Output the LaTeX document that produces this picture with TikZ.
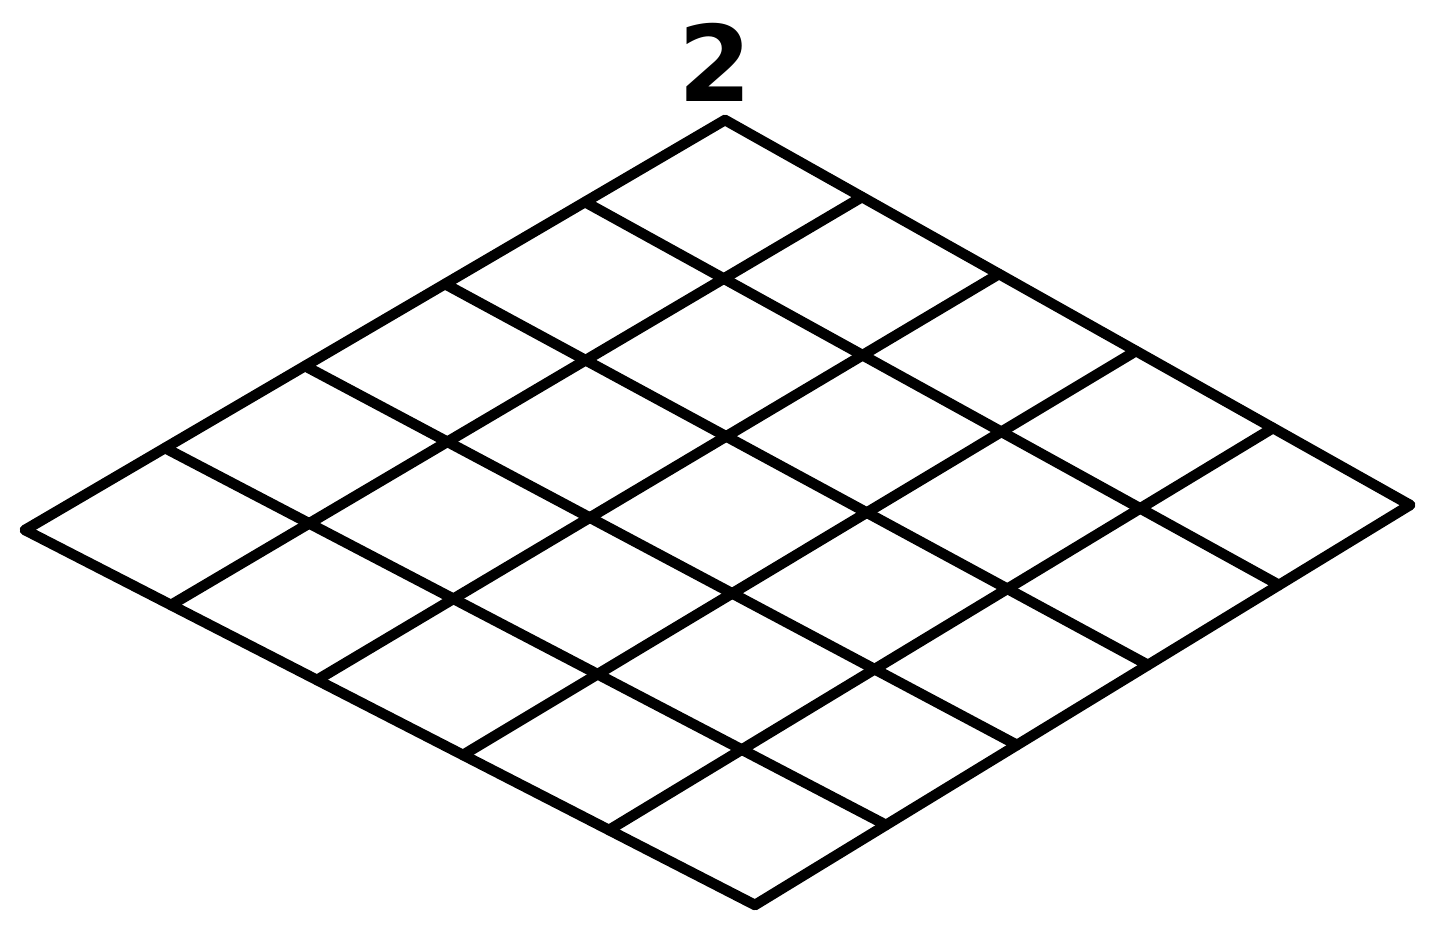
\documentclass[tikz,border=0pt]{standalone}
\usepackage{fontspec}
\setsansfont{DejaVu Sans}
\usetikzlibrary{calc}
\tikzset{
  gridline/.style={line width=3pt, draw=black, line join=round, line cap=round},
  numlbl/.style={font=\sffamily\bfseries\fontsize{30}{30}\selectfont, inner sep=0pt},
}

\begin{document}
\begin{tikzpicture}
    \useasboundingbox (0,0) rectangle (14.35,9.35);

    % corners of the board
    \coordinate (top) at (7.25,8.15);
    \coordinate (rgt) at (14.10,4.30);
    \coordinate (bot) at (7.55,0.30);
    \coordinate (lft) at (0.25,4.05);

    \node[numlbl] (num) at (7.15,8.73) {2};

    % 5 x 5 grid
    \foreach \i in {0,...,5} {
        \draw[gridline] ($(top)!\i/5!(lft)$) -- ($(rgt)!\i/5!(bot)$);
        \draw[gridline] ($(top)!\i/5!(rgt)$) -- ($(lft)!\i/5!(bot)$);
    }
\end{tikzpicture}
\end{document}
